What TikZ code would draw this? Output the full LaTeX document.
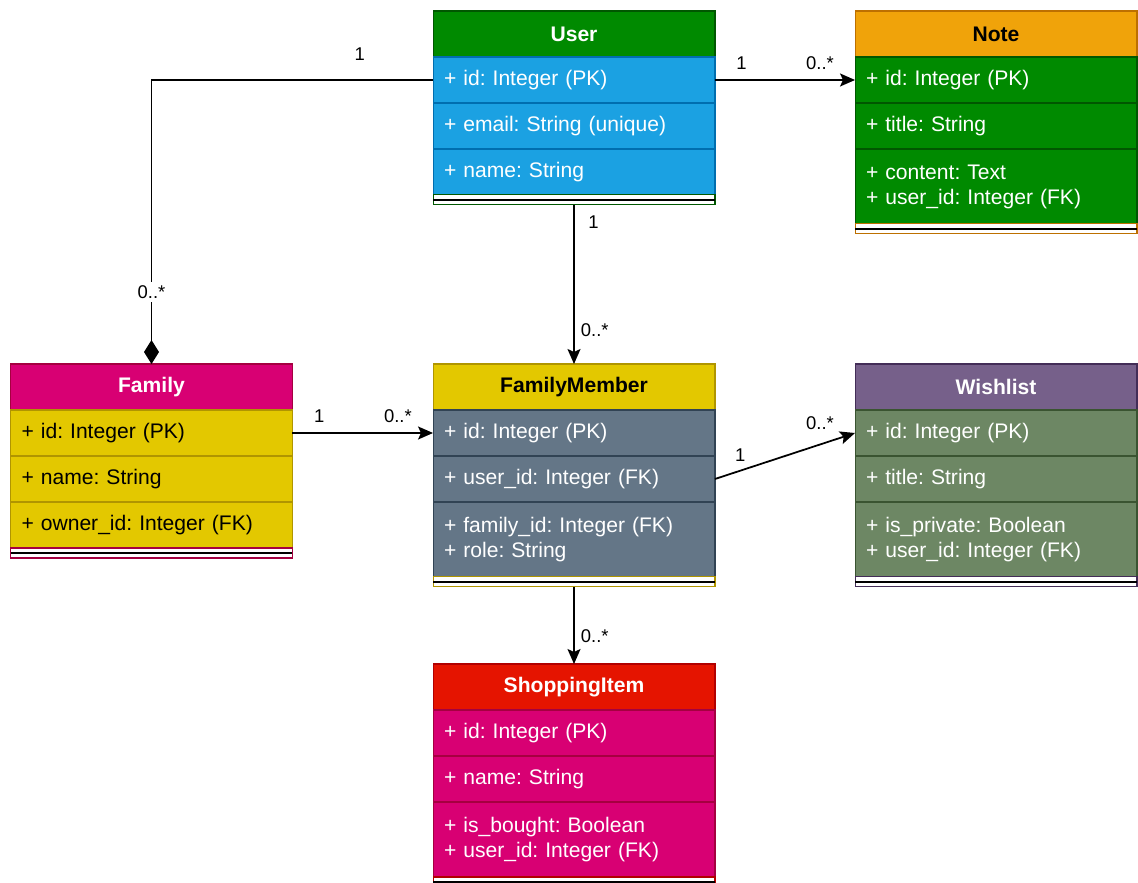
\documentclass[tikz,border=0pt]{standalone}
\usepackage{fontspec}
\setmainfont{Liberation Sans}
\usetikzlibrary{positioning,arrows.meta}
\frenchspacing

\definecolor{cgreen}{HTML}{008A00}
\definecolor{cgreenD}{HTML}{005700}
\definecolor{cblue}{HTML}{1BA1E2}
\definecolor{cblueD}{HTML}{006EAF}
\definecolor{corange}{HTML}{F0A30A}
\definecolor{corangeD}{HTML}{BD7000}
\definecolor{cmagenta}{HTML}{D80073}
\definecolor{cmagentaD}{HTML}{A50040}
\definecolor{cyellow}{HTML}{E3C800}
\definecolor{cyellowD}{HTML}{B09500}
\definecolor{cslate}{HTML}{647687}
\definecolor{cslateD}{HTML}{314354}
\definecolor{cviolet}{HTML}{76608A}
\definecolor{cvioletD}{HTML}{432D57}
\definecolor{colive}{HTML}{6D8764}
\definecolor{coliveD}{HTML}{3A5431}
\definecolor{cred}{HTML}{E51400}
\definecolor{credD}{HTML}{B20000}

\begin{document}
\begin{tikzpicture}[
  x=0.02cm, y=-0.02cm,
  box/.style 2 args={fill=#1, draw=#2, line width=0.6pt, outer sep=0pt},
  hdr/.style={
    minimum width=5.64cm,
    minimum height=0.92cm,
    inner sep=0pt,
    font=\fontsize{12}{14}\selectfont\bfseries
  },
  row/.style={
    minimum width=5.64cm,
    minimum height=0.92cm,
    text width=5.2cm,
    inner xsep=0.22cm,
    inner ysep=0pt,
    align=left,
    font=\fontsize{12}{14.2}\selectfont
  },
  tworow/.style={row, minimum height=1.5cm},
  foot/.style={
    fill=white,
    line width=0.6pt,
    outer sep=0pt,
    minimum width=5.64cm,
    minimum height=0.2cm,
    inner sep=0pt
  },
  sep/.style={line width=0.8pt, black},
  link/.style={line width=1pt, black},
  lbl/.style={font=\fontsize{10.5}{12}\selectfont, inner sep=2pt}
]
\useasboundingbox (0,0) rectangle (1138,882);

% User
\node[hdr, box={cgreen}{cgreenD}, text=white] (user) at (574,34) {User};
\node[row, box={cblue}{cblueD}, text=white, below=0pt of user] (userid) {+ id: Integer (PK)};
\node[row, box={cblue}{cblueD}, text=white, below=0pt of userid] (usermail) {+ email: String (unique)};
\node[row, box={cblue}{cblueD}, text=white, below=0pt of usermail] (username) {+ name: String};
\node[foot, draw=cgreenD, below=0pt of username] (userfoot) {};
\draw[sep] (userfoot.west) -- (userfoot.east);

% Note
\node[hdr, box={corange}{corangeD}, text=black] (note) at (996,34) {Note};
\node[row, box={cgreen}{cgreenD}, text=white, below=0pt of note] (noteid) {+ id: Integer (PK)};
\node[row, box={cgreen}{cgreenD}, text=white, below=0pt of noteid] (notetitle) {+ title: String};
\node[tworow, box={cgreen}{cgreenD}, text=white, below=0pt of notetitle] (notetext) {+ content: Text\\+ user\_id: Integer (FK)};
\node[foot, draw=corangeD, below=0pt of notetext] (notefoot) {};
\draw[sep] (notefoot.west) -- (notefoot.east);

% Family
\node[hdr, box={cmagenta}{cmagentaD}, text=white] (fam) at (151.5,387) {Family};
\node[row, box={cyellow}{cyellowD}, text=black, below=0pt of fam] (famid) {+ id: Integer (PK)};
\node[row, box={cyellow}{cyellowD}, text=black, below=0pt of famid] (famname) {+ name: String};
\node[row, box={cyellow}{cyellowD}, text=black, below=0pt of famname] (famowner) {+ owner\_id: Integer (FK)};
\node[foot, draw=cmagentaD, below=0pt of famowner] (famfoot) {};
\draw[sep] (famfoot.west) -- (famfoot.east);

% FamilyMember
\node[hdr, box={cyellow}{cyellowD}, text=black] (fm) at (574,387) {FamilyMember};
\node[row, box={cslate}{cslateD}, text=white, below=0pt of fm] (fmid) {+ id: Integer (PK)};
\node[row, box={cslate}{cslateD}, text=white, below=0pt of fmid] (fmuser) {+ user\_id: Integer (FK)};
\node[tworow, box={cslate}{cslateD}, text=white, below=0pt of fmuser] (fmrole) {+ family\_id: Integer (FK)\\+ role: String};
\node[foot, draw=cyellowD, below=0pt of fmrole] (fmfoot) {};
\draw[sep] (fmfoot.west) -- (fmfoot.east);

% Wishlist
\node[hdr, box={cviolet}{cvioletD}, text=white] (wish) at (996,387) {Wishlist};
\node[row, box={colive}{coliveD}, text=white, below=0pt of wish] (wishid) {+ id: Integer (PK)};
\node[row, box={colive}{coliveD}, text=white, below=0pt of wishid] (wishtitle) {+ title: String};
\node[tworow, box={colive}{coliveD}, text=white, below=0pt of wishtitle] (wishpriv) {+ is\_private: Boolean\\+ user\_id: Integer (FK)};
\node[foot, draw=cvioletD, below=0pt of wishpriv] (wishfoot) {};
\draw[sep] (wishfoot.west) -- (wishfoot.east);

% ShoppingItem
\node[hdr, box={cred}{credD}, text=white] (shop) at (574,687) {ShoppingItem};
\node[row, box={cmagenta}{cmagentaD}, text=white, below=0pt of shop] (shopid) {+ id: Integer (PK)};
\node[row, box={cmagenta}{cmagentaD}, text=white, below=0pt of shopid] (shopname) {+ name: String};
\node[tworow, box={cmagenta}{cmagentaD}, text=white, below=0pt of shopname] (shopbought) {+ is\_bought: Boolean\\+ user\_id: Integer (FK)};
\node[foot, draw=credD, below=0pt of shopbought] (shopfoot) {};
\draw[sep] (shopfoot.west) -- (shopfoot.east);

% relations
\draw[link, -{Diamond[length=0.48cm, width=0.3cm]}] (userid.west) -| (fam.north)
  node[lbl, pos=0.13, above=0.3cm] {1}
  node[lbl, pos=0.873, fill=white] {0..*};
\draw[link, -{Stealth[length=0.3cm, width=0.26cm, inset=0.06cm]}] (userid.east) -- (noteid.west)
  node[lbl, pos=0.19, above=0.12cm] {1}
  node[lbl, pos=0.75, above=0.12cm] {0..*};
\draw[link, -{Stealth[length=0.3cm, width=0.26cm, inset=0.06cm]}] (userfoot.south) -- (fm.north)
  node[lbl, pos=0.11, right=0.2cm] {1}
  node[lbl, pos=0.79, right=0.05cm] {0..*};
\draw[link, -{Stealth[length=0.3cm, width=0.26cm, inset=0.06cm]}] (famid.east) -- (fmid.west)
  node[lbl, pos=0.19, above=0.12cm] {1}
  node[lbl, pos=0.75, above=0.12cm] {0..*};
\draw[link, -{Stealth[length=0.3cm, width=0.26cm, inset=0.06cm]}] (fmuser.east) -- (wishid.west)
  node[lbl, pos=0.18, above=0.1cm] {1}
  node[lbl, pos=0.75, above=0.2cm] {0..*};
\draw[link, -{Stealth[length=0.3cm, width=0.26cm, inset=0.06cm]}] (fmfoot.south) -- (shop.north)
  node[lbl, pos=0.64, right=0.05cm] {0..*};
\end{tikzpicture}
\end{document}
